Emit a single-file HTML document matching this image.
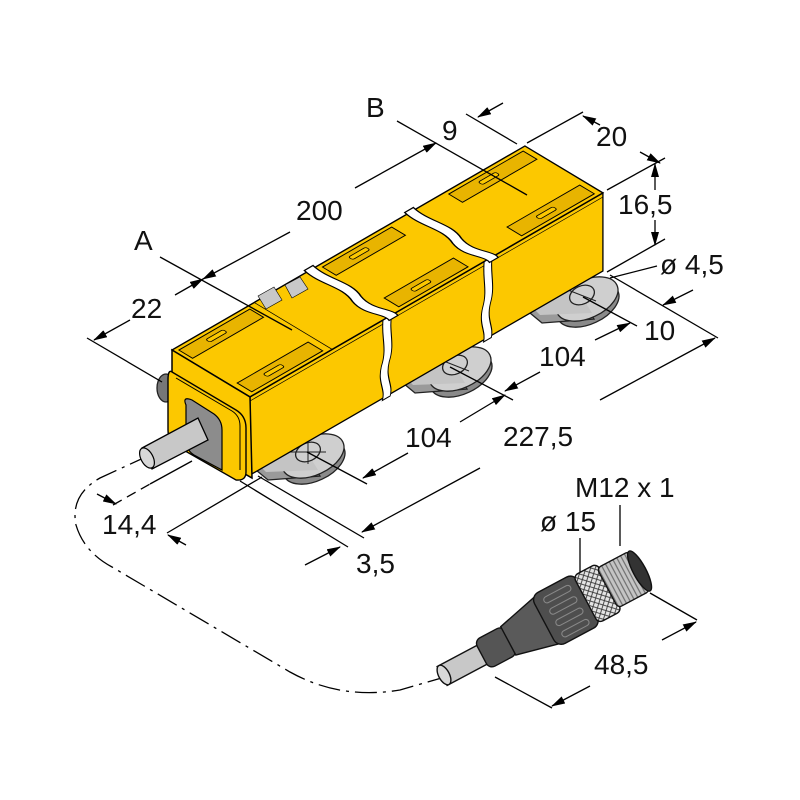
<!DOCTYPE html>
<html><head><meta charset="utf-8"><style>
html,body{margin:0;padding:0;background:#fff;}
svg{display:block;}
text{font-family:"Liberation Sans",sans-serif;font-size:28px;fill:#111;}
</style></head><body>
<svg width="800" height="800" viewBox="0 0 800 800" xmlns="http://www.w3.org/2000/svg">
<defs>
<marker id="ar" markerWidth="14" markerHeight="8" refX="13" refY="4" orient="auto" markerUnits="userSpaceOnUse">
<path d="M0,0 L14,4 L0,8 Z" fill="#000"/></marker>
<pattern id="kn" width="6" height="6" patternUnits="userSpaceOnUse">
<rect width="6" height="6" fill="#e4e4e4"/><path d="M0,0L6,6M6,0L0,6" stroke="#333" stroke-width="0.8"/></pattern>
<pattern id="th" width="4" height="10" patternUnits="userSpaceOnUse">
<rect width="4" height="10" fill="#c4c4c4"/><path d="M2,0V10" stroke="#666" stroke-width="1"/></pattern>
</defs>

<g stroke="#000" stroke-width="1.3" fill="none">
<path d="M150,455 L100,478 Q70,495 76,525 Q84,552 112,567 L290,672 Q340,700 400,690 L445,677" stroke-dasharray="22,6,3,6"/>
</g>

<!-- feet -->
<g stroke="#222" stroke-width="1.3">
<g transform="translate(308,452)">
<ellipse cx="6" cy="10" rx="33" ry="19" transform="rotate(-25 6 10)" fill="#8a8a8a"/>
<polygon points="-52,18 -12,-12 12,24 -40,28" fill="#9a9a9a"/>
<ellipse cx="5" cy="4" rx="33" ry="19" transform="rotate(-25 5 4)" fill="#cfcfcf"/>
<polygon points="-50,12 -10,-14 10,18 -42,20" fill="#c4c4c4" stroke="none"/>
<ellipse cx="0" cy="0" rx="13" ry="9" transform="rotate(-25)" fill="#cfcfcf"/>
<path d="M-18,0H18M0,-12V12" stroke-width="1"/>
</g>
<g transform="translate(455,365)">
<ellipse cx="6" cy="10" rx="33" ry="19" transform="rotate(-25 6 10)" fill="#8a8a8a"/>
<polygon points="-52,18 -12,-12 12,24 -40,28" fill="#9a9a9a"/>
<ellipse cx="5" cy="4" rx="33" ry="19" transform="rotate(-25 5 4)" fill="#cfcfcf"/>
<polygon points="-50,12 -10,-14 10,18 -42,20" fill="#c4c4c4" stroke="none"/>
<ellipse cx="0" cy="0" rx="13" ry="9" transform="rotate(-25)" fill="#cfcfcf"/>
<path d="M-14,-5L14,6" stroke-width="1"/>
</g>
<g transform="translate(582,295)">
<ellipse cx="6" cy="10" rx="33" ry="19" transform="rotate(-25 6 10)" fill="#8a8a8a"/>
<polygon points="-52,18 -12,-12 12,24 -40,28" fill="#9a9a9a"/>
<ellipse cx="5" cy="4" rx="33" ry="19" transform="rotate(-25 5 4)" fill="#cfcfcf"/>
<polygon points="-50,12 -10,-14 10,18 -42,20" fill="#c4c4c4" stroke="none"/>
<ellipse cx="0" cy="0" rx="13" ry="9" transform="rotate(-25)" fill="#cfcfcf"/>
<path d="M-14,-5L14,6" stroke-width="1"/>
</g>
<ellipse cx="166" cy="388" rx="9" ry="14" fill="#777"/>
</g>

<!-- side face -->
<g transform="matrix(0.865,-0.5,0,1,250,397)">
<rect x="0" y="0" width="408" height="78" fill="#fcc800" stroke="#000" stroke-width="1.5"/>
<line x1="0" y1="4" x2="408" y2="4" stroke="#000" stroke-width="0.8"/>
<path d="M154,-2 L164,-2 C160,15 168,30 161,45 C156,60 166,70 162,80 L153,80 C157,70 147,60 152,45 C159,30 151,15 154,-2Z" fill="#fff" stroke="#000" stroke-width="1.2"/>
<path d="M271,-2 L280,-2 C277,15 284,30 278,45 C273,60 282,70 279,80 L270,80 C273,70 264,60 269,45 C275,30 268,15 271,-2Z" fill="#fff" stroke="#000" stroke-width="1.2"/>
</g>
<!-- top face -->
<g transform="matrix(0.865,-0.5,0.857,0.515,172,350)" stroke="#000">
<rect x="0" y="0" width="408" height="91" fill="#fcc800" stroke-width="1.6"/>
<g stroke-width="1.1" fill="#e8b400">
<rect x="4" y="4" width="82" height="16"/><rect x="6" y="70" width="82" height="17"/>
<rect x="170" y="4" width="80" height="16"/><rect x="176" y="70" width="80" height="17"/>
<rect x="316" y="4" width="86" height="16"/><rect x="318" y="70" width="84" height="17"/>
</g>
<g fill="#fcc800" stroke-width="0.9">
<rect x="30" y="9" width="20" height="5" rx="2"/><rect x="30" y="76" width="20" height="5" rx="2"/>
<rect x="195" y="9" width="20" height="5" rx="2"/><rect x="200" y="76" width="20" height="5" rx="2"/>
<rect x="345" y="9" width="20" height="5" rx="2"/><rect x="345" y="76" width="20" height="5" rx="2"/>
</g>
<line x1="95" y1="0" x2="95" y2="91" stroke-width="0.8"/>
<path d="M156,-3 L166,-3 C161,20 173,35 164,55 C157,75 171,85 167,95 L157,95 C161,85 147,75 154,55 C163,35 151,20 156,-3Z" fill="#fff" stroke-width="1.4"/>
<path d="M272,-3 L282,-3 C277,20 289,35 280,55 C273,75 287,85 283,95 L273,95 C277,85 263,75 270,55 C279,35 267,20 272,-3Z" fill="#fff" stroke-width="1.4"/>
</g>
<polygon points="258,296 274,287 282,300 266,309" fill="#c8c8c8" stroke="#000" stroke-width="0.6"/>
<polygon points="285,285 300,277 308,289 292,298" fill="#c8c8c8" stroke="#000" stroke-width="0.6"/>

<!-- end face -->
<polygon points="172,350 250,397 252,478 172,432" fill="#fcc800" stroke="#000" stroke-width="1.5"/>
<path d="M172,372 L236,410 Q246,416 246,428 L246,472 Q246,481 236,480 L180,448 Q168,442 168,430 L168,380 Q168,369 172,372Z" fill="#fcc800" stroke="#000" stroke-width="1.4"/>
<path d="M176,378 L232,411 Q240,416 240,426 L240,470" fill="none" stroke="#000" stroke-width="1"/>
<path d="M186,405 Q182,396 192,400 L214,414 Q222,420 222,430 L222,470 L194,455 Q186,450 186,440Z" fill="#8c8c8c" stroke="#000" stroke-width="1.2"/>
<polygon points="142,448 198,418 208,440 152,469" fill="#c8c8c8" stroke="#000" stroke-width="1.3"/>
<ellipse cx="147" cy="458" rx="6" ry="11" transform="rotate(-28 147 458)" fill="#d8d8d8" stroke="#000" stroke-width="1.2"/>

<!-- connector -->
<g transform="translate(444,675) rotate(-28) scale(1.07)" stroke="#111" stroke-width="1.3">
<rect x="-2" y="-10" width="46" height="20" fill="#c8c8c8"/>
<ellipse cx="0" cy="0" rx="5" ry="10" fill="#d8d8d8"/>
<rect x="40" y="-15" width="30" height="30" rx="6" fill="#555"/>
<polygon points="68,-15 110,-25 110,25 68,15" fill="#5a5a5a"/>
<rect x="106" y="-27" width="46" height="54" rx="8" fill="#4e4e4e"/>
<g stroke="#888" stroke-width="1" fill="none">
<rect x="115" y="-20" width="28" height="6" rx="3"/><rect x="115" y="-8" width="28" height="6" rx="3"/>
<rect x="115" y="4" width="28" height="6" rx="3"/><rect x="115" y="16" width="28" height="6" rx="3"/>
</g>
<rect x="150" y="-25" width="25" height="50" rx="5" fill="url(#kn)"/>
<rect x="173" y="-21" width="34" height="42" rx="4" fill="url(#th)"/>
<ellipse cx="207" cy="0" rx="6" ry="21" fill="#333"/>
</g>

<!-- dimension lines -->
<g stroke="#000" stroke-width="1.3" fill="none">
<line x1="160" y1="257" x2="292" y2="330"/>
<line x1="397" y1="121" x2="527" y2="195"/>
<line x1="466" y1="114" x2="517" y2="144"/>
<line x1="503" y1="103" x2="478" y2="117" marker-end="url(#ar)"/>
<line x1="87" y1="338" x2="162" y2="382"/>
<line x1="130" y1="320" x2="94" y2="340" marker-end="url(#ar)"/>
<line x1="175" y1="295" x2="203" y2="279" marker-end="url(#ar)"/>
<line x1="290" y1="232" x2="203" y2="279" marker-end="url(#ar)"/>
<line x1="355" y1="188" x2="436" y2="143" marker-end="url(#ar)"/>
<line x1="527" y1="143" x2="583" y2="112"/>
<line x1="600" y1="125" x2="583" y2="116" marker-end="url(#ar)"/>
<line x1="640" y1="152" x2="660" y2="163" marker-end="url(#ar)"/>
<line x1="607" y1="190" x2="665" y2="158"/>
<line x1="655" y1="190" x2="655" y2="164" marker-end="url(#ar)"/>
<line x1="655" y1="220" x2="655" y2="245" marker-end="url(#ar)"/>
<line x1="607" y1="272" x2="665" y2="239"/>
<line x1="610" y1="278" x2="657" y2="266"/>
<line x1="610" y1="275" x2="718" y2="338"/>
<line x1="693" y1="290" x2="663" y2="305" marker-end="url(#ar)"/>
<line x1="583" y1="297" x2="637" y2="326"/>
<line x1="595" y1="340" x2="630" y2="323" marker-end="url(#ar)"/>
<line x1="540" y1="372" x2="505" y2="391" marker-end="url(#ar)"/>
<line x1="450" y1="367" x2="513" y2="400"/>
<line x1="460" y1="422" x2="505" y2="395" marker-end="url(#ar)"/>
<line x1="408" y1="453" x2="363" y2="478" marker-end="url(#ar)"/>
<line x1="307" y1="452" x2="367" y2="484"/>
<line x1="600" y1="400" x2="715" y2="338" marker-end="url(#ar)"/>
<line x1="480" y1="468" x2="362" y2="532" marker-end="url(#ar)"/>
<line x1="258" y1="476" x2="364" y2="538"/>
<line x1="240" y1="481" x2="348" y2="547"/>
<line x1="305" y1="565" x2="340" y2="547" marker-end="url(#ar)"/>
<line x1="113" y1="505" x2="150" y2="484" stroke-dasharray="10,6"/>
<line x1="150" y1="484" x2="192" y2="461"/>
<line x1="97" y1="494" x2="116" y2="504" marker-end="url(#ar)"/>
<line x1="167" y1="533" x2="262" y2="477"/>
<line x1="186" y1="545" x2="168" y2="535" marker-end="url(#ar)"/>
<line x1="620" y1="505" x2="620" y2="546"/>
<line x1="580" y1="538" x2="580" y2="572"/>
<line x1="650" y1="593" x2="697" y2="620"/>
<line x1="495" y1="677" x2="552" y2="708"/>
<line x1="590" y1="686" x2="552" y2="706" marker-end="url(#ar)"/>
<line x1="662" y1="640" x2="696" y2="622" marker-end="url(#ar)"/>
</g>

<text x="134" y="250">A</text>
<text x="366" y="117">B</text>
<text x="442" y="140">9</text>
<text x="596" y="146">20</text>
<text x="618" y="214">16,5</text>
<text x="660" y="274">ø 4,5</text>
<text x="644" y="340">10</text>
<text x="539" y="366">104</text>
<text x="296" y="220">200</text>
<text x="131" y="318">22</text>
<text x="405" y="447">104</text>
<text x="503" y="446">227,5</text>
<text x="102" y="534">14,4</text>
<text x="356" y="573">3,5</text>
<text x="575" y="497">M12 x 1</text>
<text x="540" y="531">ø 15</text>
<text x="594" y="674">48,5</text>
</svg>
</body></html>
